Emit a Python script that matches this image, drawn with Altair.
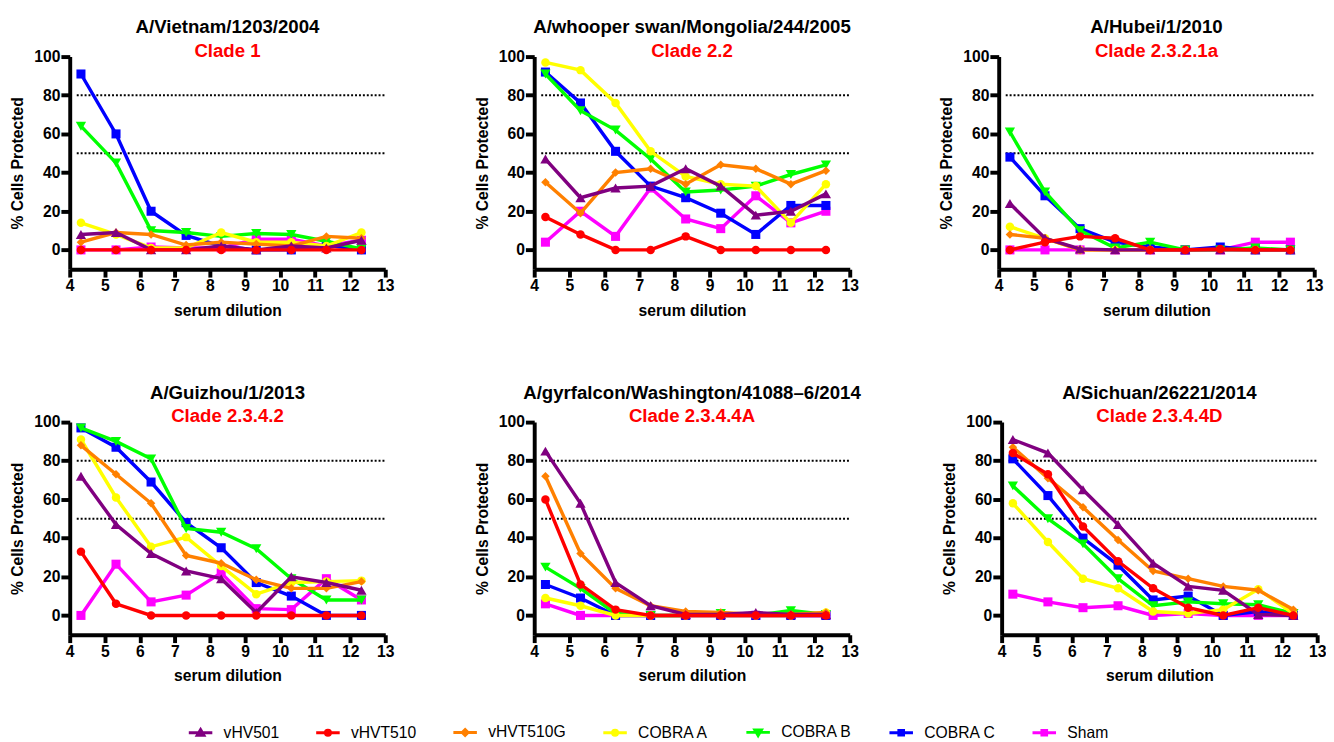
import altair as alt
import pandas as pd

# ---------------- data ----------------
DILUTION = [4.32, 5.32, 6.32, 7.32, 8.32, 9.32, 10.32, 11.32, 12.32]
SERIES = ["vHV501", "vHVT510", "vHVT510G", "COBRA A", "COBRA B", "COBRA C", "Sham"]
COLORS = ["#800080", "#FF0000", "#FF8000", "#FFFF00", "#00FF00", "#0000FF", "#FF00FF"]
DRAW_ORDER = ["Sham", "COBRA C", "COBRA B", "COBRA A", "vHVT510G", "vHV501", "vHVT510"]

STRAINS = ["A/Vietnam/1203/2004", "A/whooper swan/Mongolia/244/2005", "A/Hubei/1/2010",
           "A/Guizhou/1/2013", "A/gyrfalcon/Washington/41088\u20136/2014", "A/Sichuan/26221/2014"]
CLADES = ["Clade 1", "Clade 2.2", "Clade 2.3.2.1a", "Clade 2.3.4.2", "Clade 2.3.4.4A", "Clade 2.3.4.4D"]
THRESHOLDS = [50, 80]
X_TICKS = [4, 5, 6, 7, 8, 9, 10, 11, 12, 13]
Y_TICKS = [0, 20, 40, 60, 80, 100]

VIETNAM = {
    "vHV501":   [8, 9, 0, 0, 2, 0, 2, 1, 5],
    "vHVT510":  [0, 0, 0, 0, 0, 0, 0, 0, 0],
    "vHVT510G": [4, 9, 8, 2.5, 4, 3, 2, 7, 6],
    "COBRA A":  [14, 8, 1, 1, 9, 4, 4, 2, 9],
    "COBRA B":  [64, 45, 10, 9, 7, 8.5, 8, 4.5, 0.5],
    "COBRA C":  [91, 60, 20, 7.5, 2, 0, 0, 2.5, 0],
    "Sham":     [0, 0, 1.5, 1, 1, 5.5, 5.5, 2, 5],
}
WHOOPER = {
    "vHV501":   [47, 27, 32, 33, 42, 33, 18, 20, 29],
    "vHVT510":  [17, 8, 0, 0, 7, 0, 0, 0, 0],
    "vHVT510G": [35, 19, 40, 42, 34, 44, 42, 34, 41],
    "COBRA A":  [97, 93, 76, 51, 38, 34, 33, 14, 34],
    "COBRA B":  [91, 72, 62, 47, 30, 31, 33, 39, 44],
    "COBRA C":  [92, 76, 51, 33, 27, 19, 8, 23, 23],
    "Sham":     [4, 20, 7, 32, 16, 11, 28, 14, 20],
}
HUBEI = {
    "vHV501":   [24, 6, 0.5, 0, 0, 0, 0, 0, 0],
    "vHVT510":  [0, 4, 7, 6, 0, 0, 0.5, 0, 0],
    "vHVT510G": [8, 6, 0, 0, 0, 0, 0, 0, 0],
    "COBRA A":  [12, 6, 0, 0, 0, 0, 0, 0, 0],
    "COBRA B":  [61, 30, 10, 1, 4, 0, 0, 1, 0],
    "COBRA C":  [48, 28, 11, 4, 1.5, 0, 1.5, 0, 0],
    "Sham":     [0, 0, 0, 0, 0, 0, 0, 4, 4],
}
GUIZHOU = {
    "vHV501":   [72, 47, 32, 23, 19, 1.5, 20, 17, 13],
    "vHVT510":  [33, 6, 0, 0, 0, 0, 0, 0, 0],
    "vHVT510G": [88, 73, 58, 31, 27, 18.5, 14, 14, 17.5],
    "COBRA A":  [91, 61, 35.5, 40.5, 25.5, 11, 17, 17.5, 18],
    "COBRA B":  [97, 90, 81, 45, 43, 34.5, 19, 8, 8],
    "COBRA C":  [97, 87, 69, 48, 35, 17, 10, 0, 0],
    "Sham":     [0, 26.5, 7, 10.5, 22, 3.5, 3, 19, 8],
}
GYRFALCON = {
    "vHV501":   [85, 58, 17, 5, 0.5, 0.5, 1.5, 0.5, 0.5],
    "vHVT510":  [60, 16, 3, 0, 0, 0, 0, 0, 0],
    "vHVT510G": [72, 32, 14, 5, 2, 1.5, 0.5, 0.5, 1.5],
    "COBRA A":  [9, 5, 0, 0, 0, 0, 0, 0, 1.5],
    "COBRA B":  [25, 14, 1, 0, 0, 1, 0, 2.5, 0.5],
    "COBRA C":  [16, 9, 0, 0, 0, 0, 0, 0, 0],
    "Sham":     [6, 0, 0, 0, 0, 0, 0, 0, 0],
}
SICHUAN = {
    "vHV501":   [91, 84, 65, 47, 27, 15, 13, 0.5, 0],
    "vHVT510":  [84, 73, 46, 28, 14, 4, 0, 4, 0],
    "vHVT510G": [87, 71, 56, 39, 23, 19, 15, 13, 3],
    "COBRA A":  [58, 38, 19, 14, 2, 1, 3, 13.5, 1],
    "COBRA B":  [67, 50, 37, 19, 5, 7, 6, 5.5, 1],
    "COBRA C":  [81, 62, 40, 26, 8, 10, 0, 2, 0],
    "Sham":     [11, 7, 4, 5, 0, 1, 0, 0, 0],
}
PANELS = [VIETNAM, WHOOPER, HUBEI, GUIZHOU, GYRFALCON, SICHUAN]

# ---------------- styles ----------------
FONT = "Liberation Sans"
COLOR_OF = dict(zip(SERIES, COLORS))
SHAPE_OF = {"vHV501": "triangle-up", "vHVT510": "circle", "vHVT510G": "diamond",
            "COBRA A": "circle", "COBRA B": "triangle-down", "COBRA C": "square", "Sham": "square"}
SIZE_OF = {"vHV501": 110, "vHVT510": 75, "vHVT510G": 75, "COBRA A": 75,
           "COBRA B": 110, "COBRA C": 85, "Sham": 85}
MARK_PATH = {
    "triangle-up": "M0,-0.32L0.34,0.26L-0.34,0.26Z",
    "triangle-down": "M0,0.32L0.34,-0.26L-0.34,-0.26Z",
    "circle": "M-0.26,0A0.26,0.26 0 1,0 0.26,0A0.26,0.26 0 1,0 -0.26,0Z",
    "diamond": "M0,-0.3L0.3,0L0,0.3L-0.3,0Z",
    "square": "M-0.24,-0.24H0.24V0.24H-0.24Z",
}
LEGEND_PATHS = ["M-1.2,0H1.2" + MARK_PATH[SHAPE_OF[s]] for s in SERIES]
LEG_SIZE = 400
W, H = 322, 217
X_DOMAIN = [4, 13]
Y_DOMAIN = [-10, 100]
REF_START = 4.2


def xenc(field):
    return alt.X(f"{field}:Q", scale=alt.Scale(domain=X_DOMAIN, nice=False, zero=False),
                 axis=alt.Axis(values=X_TICKS, title="serum dilution"))


def yenc(field):
    return alt.Y(f"{field}:Q", scale=alt.Scale(domain=Y_DOMAIN, nice=False, zero=False),
                 axis=alt.Axis(values=Y_TICKS, title="% Cells Protected"))


def panel(idx, with_legend=False):
    values = PANELS[idx]
    rows = []
    for s in SERIES:
        for x, v in zip(DILUTION, values[s]):
            rows.append({"series": s, "dilution": x, "pct": v})
    df = pd.DataFrame(rows)

    ref_df = pd.DataFrame({"y": THRESHOLDS, "x0": [REF_START] * len(THRESHOLDS),
                           "x1": [X_DOMAIN[1]] * len(THRESHOLDS)})
    ref = alt.Chart(ref_df).mark_rule(color="black", strokeWidth=2, strokeDash=[2, 2]).encode(
        x=xenc("x0"), x2="x1:Q", y=yenc("y"))
    layers = [ref]
    for s in DRAW_ORDER:
        sub = df[df["series"] == s]
        base = alt.Chart(sub).encode(x=xenc("dilution"), y=yenc("pct"))
        layers.append(base.mark_line(strokeWidth=3.5, color=COLOR_OF[s]))
        layers.append(base.mark_point(filled=True, opacity=1, color=COLOR_OF[s],
                                      shape=SHAPE_OF[s], size=SIZE_OF[s]))
    if with_legend:
        leg = alt.Legend(orient="none", legendX=122, legendY=678, direction="horizontal",
                         title=None, labelFont=FONT, labelFontSize=16, labelColor="black",
                         symbolSize=LEG_SIZE, symbolStrokeWidth=3, labelOffset=12,
                         columnPadding=31, padding=0)
        legend_layer = alt.Chart(df).transform_filter("false").mark_point(
            filled=True, size=LEG_SIZE, strokeWidth=3, opacity=1).encode(
            x=xenc("dilution"), y=yenc("pct"),
            fill=alt.Fill("series:N", scale=alt.Scale(domain=SERIES, range=COLORS), legend=leg),
            stroke=alt.Stroke("series:N", scale=alt.Scale(domain=SERIES, range=COLORS), legend=leg),
            shape=alt.Shape("series:N", scale=alt.Scale(domain=SERIES, range=LEGEND_PATHS), legend=leg),
        )
        layers.append(legend_layer)
    title = alt.Title(text=STRAINS[idx], subtitle=CLADES[idx], font=FONT, subtitleFont=FONT,
                      fontSize=19, subtitleFontSize=19, fontWeight="bold", subtitleFontWeight="bold",
                      color="black", subtitleColor="#FF0000", anchor="middle", frame="group",
                      offset=-12, subtitlePadding=5)
    return alt.layer(*layers).properties(width=W, height=H, title=title)


row1 = alt.hconcat(panel(0, with_legend=True), panel(1), panel(2), spacing=82)
row2 = alt.hconcat(panel(3), panel(4), panel(5), spacing=82)
chart = alt.vconcat(row1, row2, spacing=67).properties(
    padding={"left": 2, "top": 3, "right": 0, "bottom": 0}
).configure_view(stroke=None).configure_axis(
    grid=False, domainColor="black", domainWidth=4, tickColor="black", tickWidth=4, tickSize=9,
    labelFont=FONT, labelFontSize=16, labelFontWeight="bold", labelColor="black", labelPadding=1,
    labelFlush=False,
    titleFont=FONT, titleFontSize=16, titleFontWeight="bold", titleColor="black",
).configure_axisX(titlePadding=9, tickSize=8).configure_axisY(titlePadding=8)

chart.save("out.html", embed_options={"renderer": "svg", "actions": False})
